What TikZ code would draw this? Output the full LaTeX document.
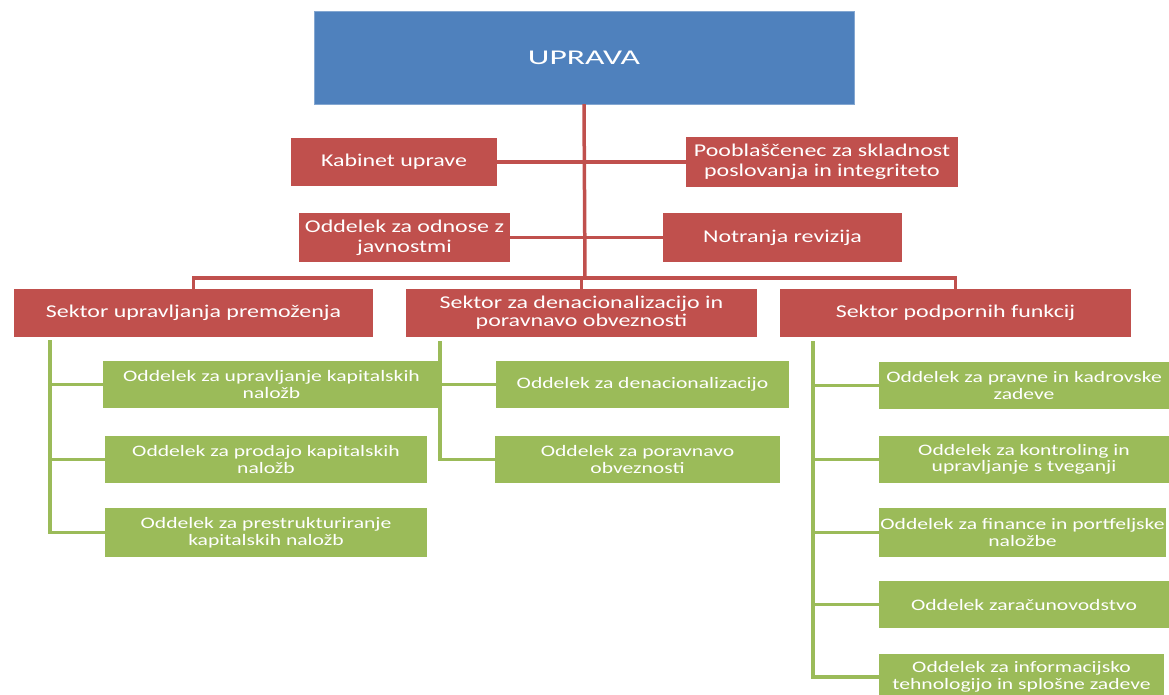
\documentclass[tikz,border=0pt]{standalone}
\usepackage{fontspec}
\setmainfont{Carlito}
\newfontfamily\wideU[FakeStretch=1.6]{Carlito}
\newfontfamily\wideS[FakeStretch=1.33]{Carlito}
\newfontfamily\wideG[FakeStretch=1.35]{Carlito}
\definecolor{cblue}{HTML}{4F81BD}
\definecolor{cred}{HTML}{C0504D}
\definecolor{cgreen}{HTML}{9BBB59}
\begin{document}
\begin{tikzpicture}[x=1pt,y=-1pt,
  box/.style={inner sep=0pt,text=white,align=center,font=\wideS\fontsize{18}{20}\selectfont},
  redbox/.style={box,fill=cred},
  sectbox/.style={box,fill=cred,font=\wideS\fontsize{18}{18}\selectfont},
  greenbox/.style={box,fill=cgreen,font=\wideG\fontsize{16}{16.5}\selectfont},
  redline/.style={draw=cred,line width=3.5pt},
  greenline/.style={draw=cgreen,line width=3.5pt}]
\useasboundingbox (0,0) rectangle (1169,695);
\newcommand{\bx}[7]{\node[#1,minimum width={#4-#3},minimum height={#6-#5}] (#2) at ({(#3+#4)/2},{(#5+#6)/2}) {#7};}
% top
\bx{box,fill=cblue,draw=cblue!70!white,font=\wideU\fontsize{21}{24}\selectfont}{upr}{314}{854}{11}{104}{UPRAVA}
\bx{redbox}{kab}{291}{497}{138}{186}{Kabinet uprave}
\bx{redbox}{poob}{686}{958}{137}{187}{Pooblaščenec za skladnost\\poslovanja in integriteto}
\bx{redbox}{odn}{299}{510}{213}{262}{Oddelek za odnose z\\javnostmi}
\bx{redbox}{rev}{663}{902}{213}{262}{Notranja revizija}
% sectors
\bx{sectbox}{s1}{14}{373}{289}{337}{Sektor upravljanja premoženja}
\bx{sectbox}{s2}{406}{757}{289}{337}{Sektor za denacionalizacijo in\\poravnavo obveznosti}
\bx{sectbox}{s3}{780}{1131}{289}{337}{Sektor podpornih funkcij}
% column 1
\bx{greenbox}{a1}{103}{440}{361}{408}{Oddelek za upravljanje kapitalskih\\naložb}
\bx{greenbox}{a2}{105}{427}{436}{483}{Oddelek za prodajo kapitalskih\\naložb}
\bx{greenbox}{a3}{105}{427}{508}{557}{Oddelek za prestrukturiranje\\kapitalskih naložb}
% column 2
\bx{greenbox}{b1}{496}{789}{361}{408}{Oddelek za denacionalizacijo}
\bx{greenbox}{b2}{495}{780}{436}{483}{Oddelek za poravnavo\\obveznosti}
% column 3
\bx{greenbox}{c1}{879}{1169}{362}{409}{Oddelek za pravne in kadrovske\\zadeve}
\bx{greenbox}{c2}{879}{1169}{436}{483}{Oddelek za kontroling in\\upravljanje s tveganji}
\bx{greenbox}{c3}{879}{1166}{508}{557}{Oddelek za finance in portfeljske\\naložbe}
\bx{greenbox}{c4}{879}{1169}{581}{628}{Oddelek zaračunovodstvo}
\bx{greenbox}{c5}{879}{1164}{654}{700}{Oddelek za informacijsko\\tehnologijo in splošne zadeve}
% connectors
\coordinate (bus) at (585,278);
\draw[redline] (upr.south) -- (bus);
\draw[redline] (kab.east) -- (poob.west);
\draw[redline] (odn.east) -- (rev.west);
\draw[redline] (s1.north) -- (s1.north |- bus) -- (s3.north |- bus) -- (s3.north);
\draw[redline] (s2.north) -- (s2.north |- bus);
\coordinate (g1) at (50,340);
\coordinate (g2) at (440,341);
\coordinate (g3) at (813,341);
\draw[greenline] (g1) |- (a3.west);
\draw[greenline] (g1 |- a1.west) -- (a1.west);
\draw[greenline] (g1 |- a2.west) -- (a2.west);
\draw[greenline] (g2) |- (b2.west);
\draw[greenline] (g2 |- b1.west) -- (b1.west);
\draw[greenline] (g3) |- (c5.west);
\draw[greenline] (g3 |- c1.west) -- (c1.west);
\draw[greenline] (g3 |- c2.west) -- (c2.west);
\draw[greenline] (g3 |- c3.west) -- (c3.west);
\draw[greenline] (g3 |- c4.west) -- (c4.west);
\end{tikzpicture}
\end{document}
